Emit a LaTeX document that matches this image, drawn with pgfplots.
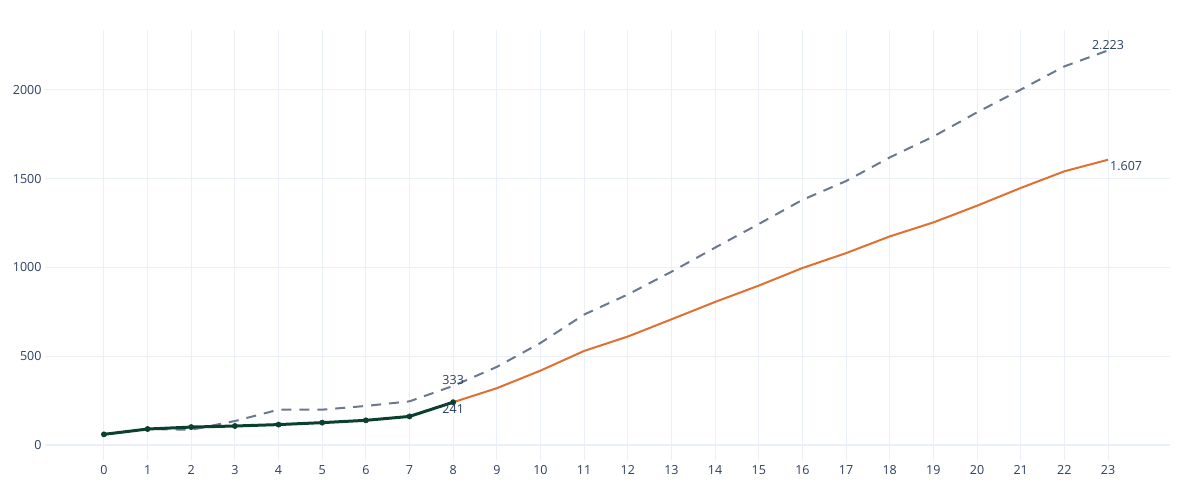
\documentclass[border=0pt]{standalone}
\usepackage{pgfplots}
\pgfplotsset{compat=1.18}
\usepackage{fontspec}
\setmainfont{Open Sans}
\definecolor{txt}{HTML}{2A3F5F}
\definecolor{grd}{HTML}{EBF0F8}
\definecolor{actual}{HTML}{0B4030}
\definecolor{fore}{HTML}{E07030}
\definecolor{prev}{HTML}{6B7890}
\begin{document}
\begin{tikzpicture}
\path[use as bounding box] (0,0) rectangle (1200bp,500bp);
\begin{axis}[
  at={(45bp,40bp)}, anchor=south west,
  scale only axis, width=1125bp, height=430bp,
  xmin=-1.35, xmax=24.42, ymin=-84.5, ymax=2338,
  axis line style={draw=none},
  major tick length=0pt,
  xtick={0,1,...,23}, ytick={0,500,1000,1500,2000},
  grid=major, major grid style={grd, line width=1bp},
  tick label style={font=\fontsize{12.5bp}{14bp}\selectfont, text=txt},
  /pgf/number format/assume math mode=true,
  /pgf/number format/.cd, 1000 sep={}, /pgfplots/.cd,
  xticklabel style={yshift=-2bp},
  clip=false,
]
\addplot[grd, line width=2bp, forget plot] coordinates {(-1.35,0) (24.42,0)};
\addplot[prev, line width=2bp, dash pattern=on 10bp off 8bp] coordinates {
(0,60) (1,90) (2,86) (3,135) (4,199) (5,199) (6,220) (7,246) (8,333) (9,440) (10,575) (11,735) (12,848) (13,976) (14,1112) (15,1245) (16,1381) (17,1487) (18,1620) (19,1738) (20,1874) (21,2002) (22,2133) (23,2223)};
\addplot[fore, line width=2bp] coordinates {
(8,241) (9,320) (10,419) (11,530) (12,611) (13,708) (14,806) (15,898) (16,997) (17,1081) (18,1175) (19,1254) (20,1348) (21,1448) (22,1542) (23,1607)};
\addplot[actual, line width=3bp, mark=*, mark size=2.6bp, mark options={solid, fill=actual, draw=actual, line width=0.6bp}] coordinates {
(0,60) (1,90) (2,101) (3,107) (4,115) (5,126) (6,139) (7,161) (8,241)};
% labels
\addplot[draw=none, nodes near coords, point meta=explicit symbolic,
  every node near coord/.style={font=\fontsize{12.5bp}{14bp}\selectfont, text=txt, anchor=south, inner sep=1bp}]
  coordinates {(8,333) [333] (23,2223) [2.223]};
\addplot[draw=none, nodes near coords, point meta=explicit symbolic,
  every node near coord/.style={font=\fontsize{12.5bp}{14bp}\selectfont, text=txt, anchor=north, inner sep=2bp}]
  coordinates {(8,241) [241]};
\addplot[draw=none, nodes near coords, point meta=explicit symbolic,
  every node near coord/.style={font=\fontsize{12.5bp}{14bp}\selectfont, text=txt, anchor=north west, inner sep=1bp, xshift=1bp}]
  coordinates {(23,1607) [1.607]};
\end{axis}
\end{tikzpicture}
\end{document}
